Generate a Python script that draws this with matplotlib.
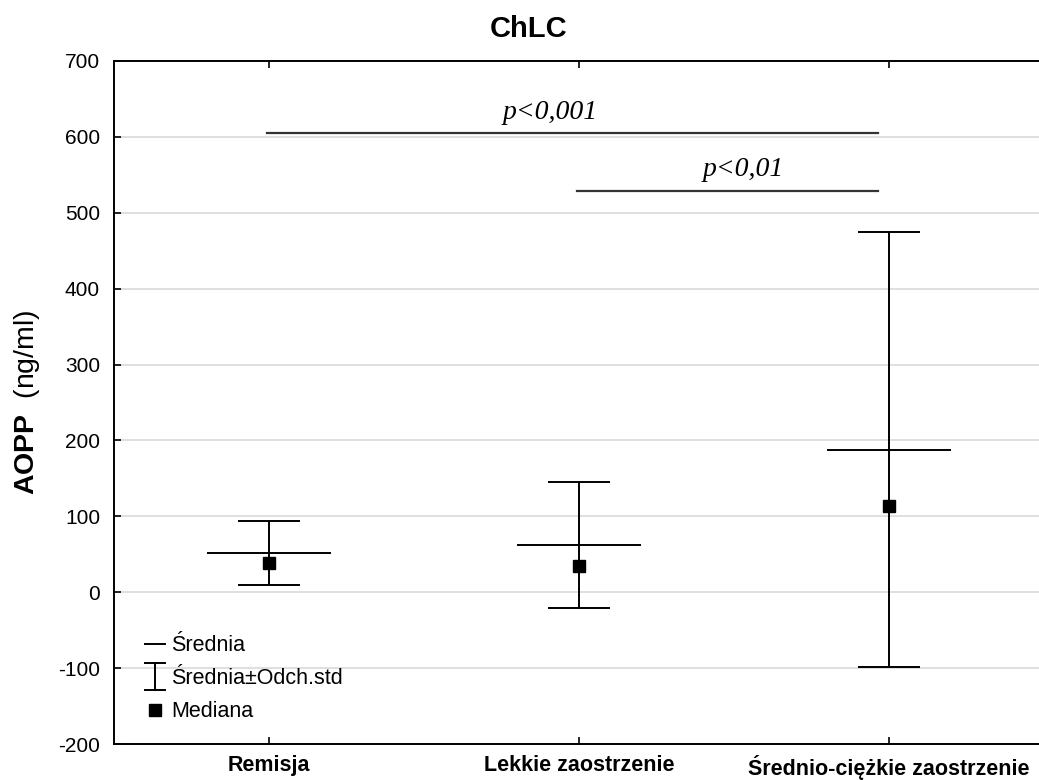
import matplotlib.pyplot as plt
from matplotlib.lines import Line2D
from matplotlib.legend_handler import HandlerBase

plt.rcParams['font.family'] = ['Liberation Sans', 'DejaVu Sans']
plt.rcParams['mathtext.fontset'] = 'custom'
plt.rcParams['mathtext.rm'] = 'Liberation Sans'
plt.rcParams['mathtext.bf'] = 'Liberation Sans:bold'
plt.rcParams['axes.unicode_minus'] = False

# values
categories = ['Remisja', 'Lekkie zaostrzenie', 'Średnio-ciężkie zaostrzenie']
means = [52, 62, 188]
sds = [42, 83, 287]
medians = [38, 35, 114]

# significance bars: (from group, to group, height, label)
sig_labels = ['p<0,001', 'p<0,01']
sig_from = [0, 1]
sig_to = [2, 2]
sig_y = [605, 529]
sig_text_x = [0.906, 1.53]

yticks = list(range(-200, 701, 100))


class ErrorbarHandle(HandlerBase):
    # small "I" symbol for the legend
    def create_artists(self, legend, orig_handle, xdescent, ydescent,
                       width, height, fontsize, trans):
        xm = width / 2 - xdescent
        ym = height / 2 - ydescent
        h = 13.5 * 72 / 100
        w = 10 * 72 / 100
        kw = dict(color='black', lw=1.4, transform=trans)
        return [Line2D([xm, xm], [ym - h, ym + h], **kw),
                Line2D([xm - w, xm + w], [ym - h, ym - h], **kw),
                Line2D([xm - w, xm + w], [ym + h, ym + h], **kw)]


fig = plt.figure(figsize=(10.39, 7.80), dpi=100)
ax = fig.add_axes([114 / 1039, 36 / 780, 930 / 1039, 683 / 780])

x = list(range(len(categories)))

# mean +/- sd
eb = ax.errorbar(x, means, yerr=sds, fmt='none', ecolor='black',
                 elinewidth=1.4, capsize=22.5, capthick=1.4, zorder=3)
# mean line
mean_lines = ax.hlines(means, [i - 0.2 for i in x], [i + 0.2 for i in x],
                       colors='black', linewidth=1.4, zorder=3)
# median
med, = ax.plot(x, medians, 's', color='black', markersize=8.8, zorder=4)

# significance annotations
for lab, a, b, yv, tx in zip(sig_labels, sig_from, sig_to, sig_y, sig_text_x):
    ax.plot([a - 0.005, b - 0.035], [yv, yv], color='#333333', lw=1.6, zorder=3)
    ax.text(tx, yv + 19, lab, ha='center', va='baseline',
            family='Liberation Serif', style='italic', fontsize=20)

ax.set_xlim(-0.5, 2.5)
ax.set_ylim(-200, 700)
ax.set_yticks(yticks)
ax.set_xticks(x)
ax.set_xticklabels(categories, fontweight='bold', fontsize=15.5)
ax.tick_params(axis='y', direction='in', length=5, width=1.2, labelsize=15, pad=10)
ax.tick_params(axis='x', direction='in', length=5, width=1.2, top=True, pad=8)

ax.yaxis.grid(True, color='#dcdcdc', lw=1.3)
ax.set_axisbelow(True)
for s in ax.spines.values():
    s.set_linewidth(1.4)
ax.spines['right'].set_visible(False)

ax.set_title('ChLC', fontweight='bold', fontsize=21, x=0.446, pad=17)
ax.set_ylabel(r'$\mathbf{AOPP}$  (ng/ml)', fontsize=20.5)
ax.yaxis.set_label_coords(-0.0774, 0.5)

mean_handle = Line2D([], [], color='black', lw=1.4)
sd_handle = Line2D([], [])
ax.legend([mean_handle, sd_handle, med], ['Średnia', 'Średnia±Odch.std', 'Mediana'],
          handler_map={sd_handle: ErrorbarHandle()},
          loc='lower left', bbox_to_anchor=(0.0333, 0.032), frameon=False,
          fontsize=15.5, borderpad=0, borderaxespad=0, handlelength=0.95,
          handletextpad=0.25, labelspacing=0.55)

fig.savefig('out.png', dpi=100)
